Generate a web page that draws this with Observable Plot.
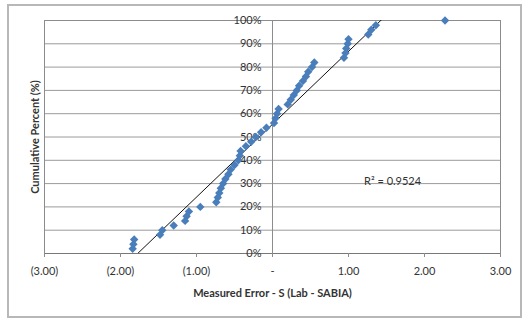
<!DOCTYPE html>
<html>
<head>
<meta charset="utf-8">
<script src="https://cdn.jsdelivr.net/npm/d3@7"></script>
<script src="https://cdn.jsdelivr.net/npm/@observablehq/plot@0.6"></script>
<style>
  html, body { margin: 0; padding: 0; background: #fff; }
  #wrap { position: relative; width: 528px; height: 323px; overflow: hidden; }
  #border { position: absolute; left: 7px; top: 4px; width: 515px; height: 314px; border: 2px solid #b8b8b8; box-sizing: border-box; pointer-events: none; }
  #chart { position: absolute; left: 0; top: 0; }
</style>
</head>
<body>
<div id="wrap">
  <div id="chart"></div>
  <div id="border"></div>
</div>
<script>
// Measured error (x) and cumulative percent (y, %)
const measuredError = [
  -1.84, -1.83, -1.82, -1.48, -1.45, -1.30, -1.15, -1.13, -1.10, -0.95,
  -0.74, -0.72, -0.70, -0.68, -0.65, -0.62, -0.58, -0.55, -0.50, -0.45,
  -0.43, -0.42, -0.35, -0.28, -0.22, -0.15, -0.08, 0.02, 0.04, 0.06,
  0.08, 0.20, 0.24, 0.28, 0.32, 0.35, 0.40, 0.44, 0.47, 0.52,
  0.55, 0.94, 0.96, 0.97, 0.99, 1.00, 1.26, 1.30, 1.36, 2.27
];
const cumulativePercent = [
  2, 4, 6, 8, 10, 12, 14, 16, 18, 20,
  22, 24, 26, 28, 30, 32, 34, 36, 38, 40,
  42, 44, 46, 48, 50, 52, 54, 56, 58, 60,
  62, 64, 66, 68, 70, 72, 74, 76, 78, 80,
  82, 84, 86, 88, 90, 92, 94, 96, 98, 100
];
const xTicks = [-3, -2, -1, 0, 1, 2, 3];
const xTickLabels = ["(3.00)", "(2.00)", "(1.00)", "-", "1.00", "2.00", "3.00"];
const yTicks = [0, 10, 20, 30, 40, 50, 60, 70, 80, 90, 100];
const yTickLabels = ["0%", "10%", "20%", "30%", "40%", "50%", "60%", "70%", "80%", "90%", "100%"];
const xTitle = "Measured Error - S (Lab - SABIA)";
const yTitle = "Cumulative Percent (%)";
const r2Label = "R² = 0.9524";

const data = measuredError.map((x, i) => ({x, y: cumulativePercent[i]}));
const yTickData = yTicks.map((v, i) => ({v, label: yTickLabels[i]}));

const chart = Plot.plot({
  width: 528,
  height: 323,
  marginLeft: 44,
  marginRight: 28,
  marginTop: 20,
  marginBottom: 70,
  style: {fontFamily: "Lato, 'Open Sans', sans-serif", fontSize: "11px", color: "#333", background: "transparent"},
  x: {domain: [-3, 3]},
  y: {domain: [0, 100], axis: null},
  marks: [
    Plot.gridY(yTicks, {stroke: "#9a9a9a", strokeOpacity: 1}),
    Plot.frame({stroke: "#8c8c8c"}),
    Plot.ruleX([0], {stroke: "#8c8c8c"}),
    Plot.ruleY([0], {stroke: "#777"}),
    Plot.axisX(xTicks, {
      tickSize: 4, tickPadding: 10, stroke: "#8c8c8c",
      tickFormat: (d) => xTickLabels[xTicks.indexOf(d)],
      label: null, fill: "#333", fontSize: 11
    }),
    Plot.text(yTickData, {x: 0, y: "v", text: "label", textAnchor: "end", dx: -11, fill: "#333", fontSize: 11}),
    Plot.linearRegressionY(data, {x: "x", y: "y", stroke: "#111", strokeWidth: 1, ci: 0, clip: true}),
    Plot.dot(data, {x: "x", y: "y", symbol: "diamond2", r: 3.8, fill: "#4a7ebb", stroke: "none"}),
    Plot.text([r2Label], {x: 1.58, y: 31, text: (d) => d, fill: "#333", fontSize: 11}),
    Plot.text([xTitle], {frameAnchor: "bottom", dy: 43, text: (d) => d, fontWeight: "bold", fill: "#333", fontSize: 11}),
    Plot.text([yTitle], {frameAnchor: "left", textAnchor: "middle", dx: -9, rotate: -90, text: (d) => d, fontWeight: "bold", fill: "#333", fontSize: 11})
  ]
});
document.getElementById("chart").appendChild(chart);
</script>
</body>
</html>
